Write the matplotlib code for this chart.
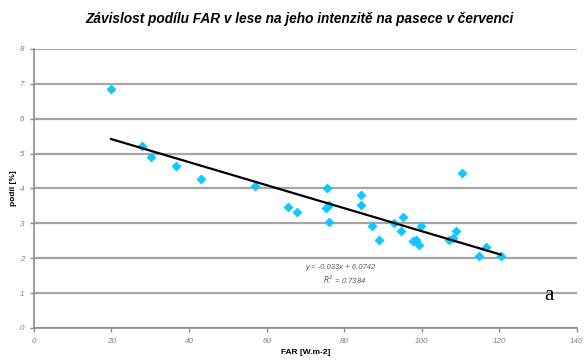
import numpy as np
import matplotlib.pyplot as plt

# FAR na pasece [W.m-2] a podíl v lese [%]
far = [19.9, 27.8, 30.2, 36.6, 43.2, 57.1, 65.5, 67.7, 75.5, 75.3,
       76.0, 76.0, 84.4, 84.2, 87.1, 89.0, 92.9, 95.1, 94.6, 99.9,
       97.6, 98.6, 99.4, 106.9, 108.0, 108.8, 110.4, 116.6, 114.8, 120.3]
podil = [6.84, 5.21, 4.91, 4.65, 4.26, 4.07, 3.47, 3.33, 4.02, 3.43,
         3.52, 3.03, 3.80, 3.52, 2.91, 2.52, 3.02, 3.19, 2.78, 2.93,
         2.50, 2.52, 2.38, 2.52, 2.59, 2.77, 4.45, 2.33, 2.05, 2.05]
slope, intercept = -0.033, 6.0742   # z rovnice trendu v grafu
r2 = 0.7384

plt.rcParams['font.family'] = ['Liberation Sans', 'DejaVu Sans']

fig = plt.figure(figsize=(5.84, 3.6), dpi=100)
ax = fig.add_axes([0.058, 0.089, 0.930, 0.775])

ax.set_xlim(0, 140)
ax.set_ylim(0, 8)
ax.set_xticks(range(0, 141, 20))
ax.set_yticks(range(0, 9))
ax.yaxis.grid(True, color='#a6a6a6', linewidth=1.6)
ax.set_axisbelow(True)
for s in ['top', 'right']:
    ax.spines[s].set_visible(False)
for s in ['left', 'bottom']:
    ax.spines[s].set_color('#8c8c8c')
    ax.spines[s].set_linewidth(1.2)
ax.tick_params(length=3, width=1, color='#8c8c8c', labelsize=5.8,
               labelcolor='#7f7f7f', pad=4)
for lab in ax.get_xticklabels() + ax.get_yticklabels():
    lab.set_style('italic')

ax.scatter(far, podil, marker='D', s=26, color='#10c8ff', zorder=3, linewidths=0)

x_fit = np.array([min(far), max(far)])
ax.plot(x_fit, slope * x_fit + intercept, color='black', linewidth=1.6, zorder=4)

ax.text(79, 1.72, 'y = -0.033x + 6.0742', fontsize=5.5, color='#595959',
        style='italic', ha='center', va='center')
ax.text(80, 1.37, '$R^2$ = 0.7384', fontsize=5.5, color='#595959',
        style='italic', ha='center', va='center')

ax.set_xlabel('FAR [W.m-2]', fontsize=6, fontweight='bold', labelpad=3)
ax.set_ylabel('podíl [%]', fontsize=6, fontweight='bold', labelpad=2)

fig.text(0.512, 0.948, 'Závislost podílu FAR v lese na jeho intenzitě na pasece v červenci',
         ha='center', va='center', fontsize=9.8, fontweight='bold', style='italic')
fig.text(0.94, 0.178, 'a', family=['Liberation Serif', 'DejaVu Serif'], fontsize=15,
         ha='center', va='center')

fig.savefig('out.png', dpi=100)
